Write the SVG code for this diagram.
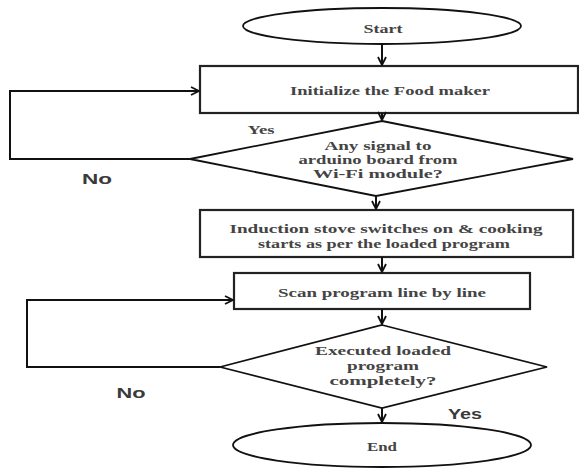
<svg xmlns="http://www.w3.org/2000/svg" width="579" height="468" viewBox="0 0 579 468">
<style>
.shape{fill:#fff;stroke:#111;stroke-width:1.8}
.box{fill:#fff;stroke:#222;stroke-width:2.2}
.t{font-family:"Liberation Serif","Times New Roman",serif;font-weight:bold;font-size:13px;fill:#444;text-anchor:middle;dominant-baseline:central}
.lab{font-family:"Liberation Sans",Arial,sans-serif;font-weight:bold;font-size:15px;fill:#3a3a3a;text-anchor:middle;dominant-baseline:central}
.conn{fill:none;stroke:#111;stroke-width:2}
</style>
<defs>
<marker id="ah" viewBox="0 0 10 10" refX="9" refY="5" markerWidth="5" markerHeight="5" orient="auto" markerUnits="strokeWidth">
<path d="M1,1 L9,5 L1,9" fill="none" stroke="#111" stroke-width="1.8"/>
</marker>
</defs>
<g id="start">
<ellipse class="shape" cx="382" cy="26" rx="139" ry="18"/>
<text class="t" x="383" y="28" textLength="39" lengthAdjust="spacingAndGlyphs">Start</text>
</g>
<g id="init">
<rect class="box" x="200" y="66" width="378" height="47"/>
<text class="t" x="390" y="90" textLength="200" lengthAdjust="spacingAndGlyphs">Initialize the Food maker</text>
</g>
<g id="decision1">
<polygon class="shape" points="382,121 573,159 376,196 190,159"/>
<text class="t" x="378" y="145" textLength="107" lengthAdjust="spacingAndGlyphs">Any signal to</text>
<text class="t" x="378" y="159" textLength="159" lengthAdjust="spacingAndGlyphs">arduino board from</text>
<text class="t" x="378" y="173" textLength="130" lengthAdjust="spacingAndGlyphs">Wi-Fi module?</text>
</g>
<g id="induction">
<rect class="box" x="200" y="210" width="373" height="47"/>
<text class="t" x="386" y="228" textLength="313" lengthAdjust="spacingAndGlyphs">Induction stove switches on &amp; cooking</text>
<text class="t" x="384" y="243" textLength="252" lengthAdjust="spacingAndGlyphs">starts as per the loaded program</text>
</g>
<g id="scan">
<rect class="box" x="234" y="273" width="296" height="36"/>
<text class="t" x="382" y="292" textLength="208" lengthAdjust="spacingAndGlyphs">Scan program line by line</text>
</g>
<g id="decision2">
<polygon class="shape" points="382,325 547,367 382,408 220,367"/>
<text class="t" x="383" y="350" textLength="136" lengthAdjust="spacingAndGlyphs">Executed loaded</text>
<text class="t" x="383" y="365" textLength="72" lengthAdjust="spacingAndGlyphs">program</text>
<text class="t" x="383" y="380" textLength="107" lengthAdjust="spacingAndGlyphs">completely?</text>
</g>
<g id="end">
<ellipse class="shape" cx="382" cy="445" rx="149" ry="22"/>
<text class="t" x="382" y="446" textLength="30" lengthAdjust="spacingAndGlyphs">End</text>
</g>
<g id="connectors">
<line class="conn" x1="382" y1="44" x2="382" y2="65" marker-end="url(#ah)"/>
<line class="conn" x1="382" y1="113" x2="382" y2="120" marker-end="url(#ah)"/>
<line class="conn" x1="376" y1="196" x2="376" y2="209" marker-end="url(#ah)"/>
<line class="conn" x1="382" y1="257" x2="382" y2="272" marker-end="url(#ah)"/>
<line class="conn" x1="382" y1="309" x2="382" y2="324" marker-end="url(#ah)"/>
<line class="conn" x1="382" y1="408" x2="382" y2="422" marker-end="url(#ah)"/>
<polyline class="conn" points="190,159 10,159 10,91 199,91" marker-end="url(#ah)"/>
<polyline class="conn" points="220,367 27,367 27,300 233,300" marker-end="url(#ah)"/>
<text class="t" x="261" y="129" font-size="11" textLength="27" lengthAdjust="spacingAndGlyphs">Yes</text>
<text class="lab" x="97" y="178" textLength="30" lengthAdjust="spacingAndGlyphs">No</text>
<text class="lab" x="131" y="392" textLength="29" lengthAdjust="spacingAndGlyphs">No</text>
<text class="lab" x="465" y="413" textLength="34" lengthAdjust="spacingAndGlyphs">Yes</text>
</g>
</svg>
